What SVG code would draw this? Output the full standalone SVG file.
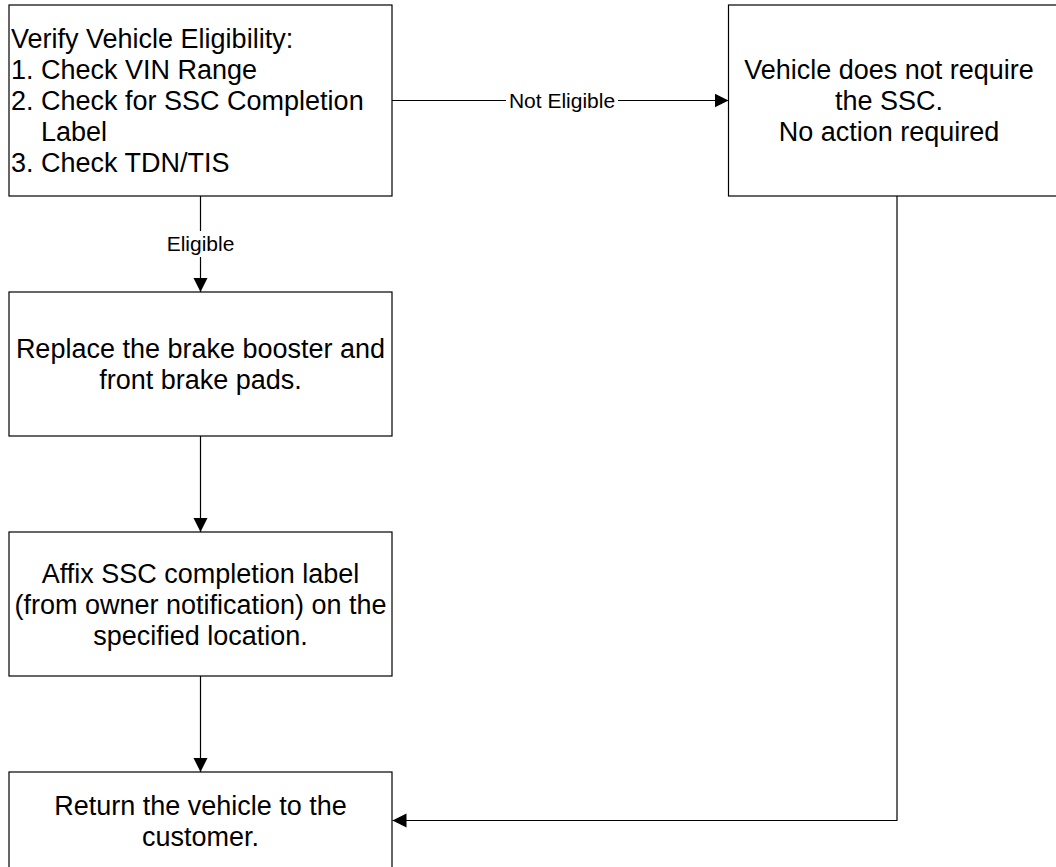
<svg xmlns="http://www.w3.org/2000/svg" width="1056" height="867" viewBox="0 0 1056 867">
<style>
.box{fill:#fff;stroke:#000;stroke-width:1.2}
.t{font-family:"Liberation Sans",Arial,sans-serif;font-size:27px;fill:#000}
.c{text-anchor:middle}
.lbl{font-family:"Liberation Sans",Arial,sans-serif;font-size:21px;fill:#000;text-anchor:middle}
.conn{fill:none;stroke:#000;stroke-width:1.2}
</style>
<defs>
<marker id="arr" markerUnits="userSpaceOnUse" markerWidth="15" markerHeight="15" refX="14" refY="7" orient="auto">
<path d="M0,0 L14,7 L0,14 Z" fill="#000"/>
</marker>
</defs>
<rect width="1056" height="867" fill="#fff"/>
<g id="connectors">
<path class="conn" d="M392,100.5 H728.5" marker-end="url(#arr)"/>
<rect x="506" y="88" width="112" height="26" fill="#fff"/>
<text class="lbl" x="562" y="108">Not Eligible</text>
<path class="conn" d="M200.5,196 V292" marker-end="url(#arr)"/>
<rect x="166" y="231" width="69" height="26" fill="#fff"/>
<text class="lbl" x="200.5" y="251">Eligible</text>
<path class="conn" d="M200.5,436 V532" marker-end="url(#arr)"/>
<path class="conn" d="M200.5,676 V772" marker-end="url(#arr)"/>
<path class="conn" d="M897,196 V820.5 H392.5" marker-end="url(#arr)"/>
</g>
<g id="node-verify">
<rect class="box" x="9" y="5" width="383" height="191"/>
<text class="t" x="11" y="48">Verify Vehicle Eligibility:</text>
<text class="t" x="11" y="79">1. Check VIN Range</text>
<text class="t" x="11" y="110">2. Check for SSC Completion</text>
<text class="t" x="41" y="141">Label</text>
<text class="t" x="11" y="172">3. Check TDN/TIS</text>
</g>
<g id="node-not-required">
<rect class="box" x="728.5" y="5" width="337" height="191"/>
<text class="t c" x="889" y="79">Vehicle does not require</text>
<text class="t c" x="889" y="110">the SSC.</text>
<text class="t c" x="889" y="141">No action required</text>
</g>
<g id="node-replace">
<rect class="box" x="9" y="292" width="383" height="144"/>
<text class="t c" x="200.5" y="358">Replace the brake booster and</text>
<text class="t c" x="200.5" y="389">front brake pads.</text>
</g>
<g id="node-affix">
<rect class="box" x="9" y="532" width="383" height="144"/>
<text class="t c" x="200.5" y="583">Affix SSC completion label</text>
<text class="t c" x="200.5" y="614">(from owner notification) on the</text>
<text class="t c" x="200.5" y="645">specified location.</text>
</g>
<g id="node-return">
<rect class="box" x="9" y="772" width="383" height="98"/>
<text class="t c" x="200.5" y="815">Return the vehicle to the</text>
<text class="t c" x="200.5" y="846">customer.</text>
</g>
</svg>
